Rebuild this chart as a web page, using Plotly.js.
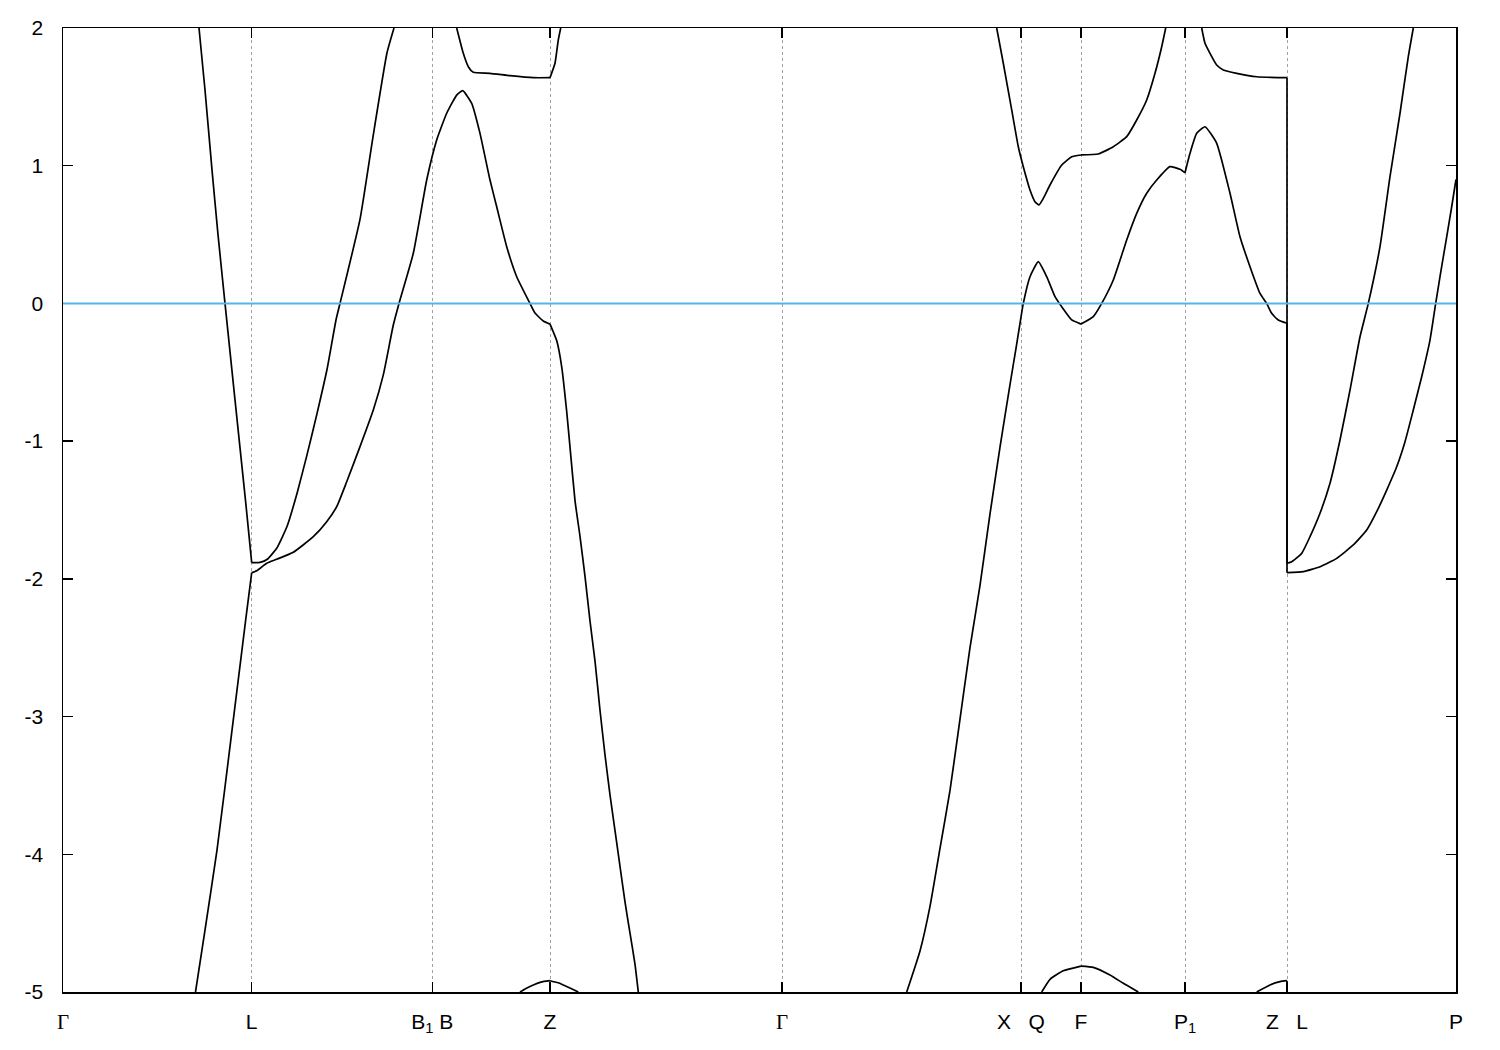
<!DOCTYPE html>
<html>
<head>
<meta charset="utf-8">
<script src="https://cdn.plot.ly/plotly-3.0.1.min.js"></script>
<style>
  html, body { margin: 0; padding: 0; background: #ffffff; }
  #chart { width: 1500px; height: 1050px; }
</style>
</head>
<body>
<div id="chart"></div>
<script>
// High-symmetry points along the k-path
const kTickPos = [0, 0.1887, 0.3693, 0.487, 0.719, 0.958, 1.018, 1.122, 1.224, 1.393];
const GAMMA = '<span style="font-family:\'Liberation Serif\', \'DejaVu Serif\', serif">\u0393</span>';
const kTickLabels = [GAMMA, 'L', 'B<sub>1</sub>\u00a0B', 'Z', GAMMA, 'X\u00a0\u00a0\u00a0Q', 'F', 'P<sub>1</sub>', 'Z\u00a0\u00a0\u00a0L', 'P'];

const energyTicks = [2, 1, 0, -1, -2, -3, -4, -5];
const fermiLevel = 0;

// Band A: top -> L -> steep rise
const bandA_k = [0.136, 0.142, 0.149, 0.155, 0.162, 0.172, 0.1825, 0.1887, 0.197, 0.2043, 0.2137, 0.224, 0.234, 0.244, 0.254, 0.264, 0.273, 0.277, 0.297, 0.310, 0.324, 0.331];
const bandA_E = [2.0, 1.55, 0.97, 0.50, 0.0, -0.70, -1.43, -1.882, -1.88, -1.858, -1.778, -1.62, -1.38, -1.10, -0.80, -0.48, -0.12, 0.0, 0.61, 1.21, 1.82, 2.0];

// Band B: bottom -> L -> peak near B -> Z -> bottom
const bandB_k = [0.1325, 0.142, 0.154, 0.1685, 0.183, 0.1887, 0.1937, 0.2037, 0.2137, 0.2303, 0.2503, 0.2637, 0.2737, 0.2837, 0.297, 0.3103, 0.3203, 0.3303, 0.336, 0.3503, 0.3637, 0.3737, 0.3837, 0.3937, 0.3997, 0.4087, 0.417, 0.427, 0.4337, 0.4437, 0.4537, 0.467, 0.472, 0.4803, 0.487, 0.4937, 0.4987, 0.5037, 0.507, 0.512, 0.517, 0.522, 0.527, 0.532, 0.537, 0.542, 0.547, 0.552, 0.557, 0.562, 0.567, 0.572, 0.5753];
const bandB_E = [-5.0, -4.55, -3.97, -3.13, -2.28, -1.955, -1.941, -1.887, -1.858, -1.807, -1.694, -1.585, -1.476, -1.295, -1.04, -0.774, -0.519, -0.157, 0.0, 0.364, 0.896, 1.187, 1.381, 1.513, 1.545, 1.453, 1.235, 0.896, 0.702, 0.412, 0.194, 0.0, -0.07, -0.128, -0.15, -0.27, -0.46, -0.785, -1.043, -1.432, -1.691, -1.982, -2.306, -2.597, -2.954, -3.278, -3.569, -3.828, -4.087, -4.346, -4.573, -4.799, -5.0];

// Band C: upper band between B and Z
const bandC_k = [0.3937, 0.4003, 0.4053, 0.4103, 0.427, 0.447, 0.4703, 0.487, 0.492, 0.4953, 0.4977];
const bandC_E = [2.0, 1.816, 1.719, 1.678, 1.671, 1.654, 1.639, 1.639, 1.744, 1.913, 2.0];

// Band D: small arc at Z near the bottom
const bandD_k = [0.457, 0.463, 0.4703, 0.478, 0.487, 0.496, 0.5003, 0.508, 0.5153];
const bandD_E = [-5.0, -4.975, -4.949, -4.928, -4.918, -4.935, -4.949, -4.975, -5.0];

// Band E: rising from bottom towards X, Q, F, P1, Z, then continuing after L
const bandE_k = [0.8437, 0.857, 0.867, 0.877, 0.887, 0.897, 0.907, 0.917, 0.927, 0.937, 0.947, 0.953, 0.958, 0.9603, 0.967, 0.9753, 0.9837, 0.992, 0.9987, 1.0087, 1.018, 1.0303, 1.0387, 1.0503, 1.0637, 1.0737, 1.0837, 1.0937, 1.107, 1.117, 1.122, 1.127, 1.1337, 1.142, 1.1537, 1.167, 1.177, 1.187, 1.197, 1.2037, 1.2087, 1.2153, 1.224,
  1.224, 1.2287, 1.2387, 1.247, 1.257, 1.267, 1.277, 1.287, 1.297, 1.3053, 1.317, 1.327, 1.337, 1.3453, 1.3503];
const bandE_E = [-5.0, -4.702, -4.378, -3.957, -3.536, -3.018, -2.5, -2.047, -1.529, -1.043, -0.59, -0.326, -0.1, 0.0, 0.194, 0.303, 0.194, 0.049, -0.024, -0.12, -0.15, -0.096, 0.0, 0.17, 0.461, 0.654, 0.80, 0.896, 0.993, 0.974, 0.949, 1.09, 1.235, 1.283, 1.163, 0.80, 0.484, 0.267, 0.073, 0.0, -0.072, -0.12, -0.144,
  -1.887, -1.876, -1.815, -1.694, -1.524, -1.306, -0.992, -0.629, -0.242, 0.0, 0.412, 0.92, 1.381, 1.792, 2.0];

// Band F: upper band with minimum at Q
const bandF_k = [0.9337, 0.9403, 0.9487, 0.9553, 0.9603, 0.967, 0.972, 0.976, 0.9803, 0.987, 0.9987, 1.0087, 1.018, 1.0353, 1.0503, 1.0637, 1.0737, 1.0837, 1.092, 1.0987, 1.1027];
const bandF_E = [2.0, 1.744, 1.405, 1.138, 0.993, 0.824, 0.739, 0.715, 0.763, 0.86, 1.005, 1.065, 1.078, 1.085, 1.138, 1.211, 1.332, 1.477, 1.671, 1.864, 2.0];

// Band G: upper band P1 -> Z, then from L towards P
const bandG_k = [1.1387, 1.142, 1.147, 1.1537, 1.1603, 1.1737, 1.1937, 1.224, 1.224, 1.2403, 1.257, 1.2737, 1.2903, 1.3037, 1.3137, 1.3237, 1.3337, 1.342, 1.3503, 1.3587, 1.367, 1.3727, 1.377, 1.3837, 1.3887, 1.393];
const bandG_E = [2.0, 1.889, 1.816, 1.731, 1.695, 1.671, 1.646, 1.639, -1.955, -1.948, -1.912, -1.851, -1.754, -1.645, -1.512, -1.355, -1.186, -1.004, -0.774, -0.532, -0.266, 0.0, 0.194, 0.484, 0.702, 0.90];

// Band I: arc at F near the bottom
const bandI_k = [0.9787, 0.987, 1.0003, 1.018, 1.0303, 1.047, 1.0603, 1.0753];
const bandI_E = [-5.0, -4.908, -4.846, -4.812, -4.821, -4.877, -4.937, -5.0];

// Band J: arc ending at Z near the bottom
const bandJ_k = [1.1937, 1.207, 1.217, 1.224, 1.224];
const bandJ_E = [-5.0, -4.949, -4.925, -4.918, -5.0];

const bands = [
  [bandA_k, bandA_E], [bandB_k, bandB_E], [bandC_k, bandC_E], [bandD_k, bandD_E],
  [bandE_k, bandE_E], [bandF_k, bandF_E], [bandG_k, bandG_E], [bandI_k, bandI_E], [bandJ_k, bandJ_E]
];

const LINE_SMOOTH = {color: '#000000', width: 1.7, shape: 'spline', smoothing: 0.45};
const LINE_JUMP = {color: '#000000', width: 1.7};

function lineTrace(xs, ys, line) {
  return {x: xs, y: ys, type: 'scatter', mode: 'lines', line: line, hoverinfo: 'skip', showlegend: false};
}

// Bands are smooth between high-symmetry points: split each band at those points
// (kinks) and at path discontinuities (repeated k, drawn as straight jumps).
const traces = [];
bands.forEach(([ks, es]) => {
  let segK = [ks[0]], segE = [es[0]];
  for (let i = 1; i < ks.length; i++) {
    if (ks[i] === ks[i - 1]) {
      if (segK.length > 1) traces.push(lineTrace(segK, segE, LINE_SMOOTH));
      traces.push(lineTrace([ks[i - 1], ks[i]], [es[i - 1], es[i]], LINE_JUMP));
      segK = [ks[i]]; segE = [es[i]];
    } else {
      segK.push(ks[i]); segE.push(es[i]);
      if (kTickPos.includes(ks[i]) && i < ks.length - 1 && ks[i + 1] !== ks[i]) {
        traces.push(lineTrace(segK, segE, LINE_SMOOTH));
        segK = [ks[i]]; segE = [es[i]];
      }
    }
  }
  if (segK.length > 1) traces.push(lineTrace(segK, segE, LINE_SMOOTH));
});

const FONT = {family: 'Liberation Sans, Arial, sans-serif', size: 21, color: '#000000'};

const layout = {
  width: 1500, height: 1050,
  margin: {l: 63, r: 44, t: 28, b: 58, pad: 0},
  paper_bgcolor: '#ffffff', plot_bgcolor: '#ffffff',
  showlegend: false,
  font: FONT,
  xaxis: {
    range: [kTickPos[0], kTickPos[kTickPos.length - 1]],
    tickmode: 'array', tickvals: kTickPos, ticktext: kTickLabels,
    ticks: 'inside', ticklen: 10, tickwidth: 1.5, tickcolor: '#000000',
    showline: true, linecolor: '#000000', linewidth: 1.5, mirror: 'all',
    showgrid: true, gridcolor: '#a0a0a0', gridwidth: 1, griddash: '3px,3px',
    zeroline: false, ticklabelstandoff: 10, tickfont: FONT
  },
  yaxis: {
    range: [-5, 2],
    tickmode: 'array', tickvals: energyTicks, ticktext: energyTicks.map(String),
    ticks: 'inside', ticklen: 10, tickwidth: 1.5, tickcolor: '#000000',
    showline: true, linecolor: '#000000', linewidth: 1.5, mirror: 'all',
    showgrid: false, zeroline: false, ticklabelstandoff: 14, tickfont: FONT
  },
  shapes: [{
    type: 'line', xref: 'paper', x0: 0, x1: 1, yref: 'y', y0: fermiLevel, y1: fermiLevel,
    line: {color: '#56b4e9', width: 2}, layer: 'above'
  }]
};

Plotly.newPlot('chart', traces, layout, {staticPlot: true, displayModeBar: false});
</script>
</body>
</html>
